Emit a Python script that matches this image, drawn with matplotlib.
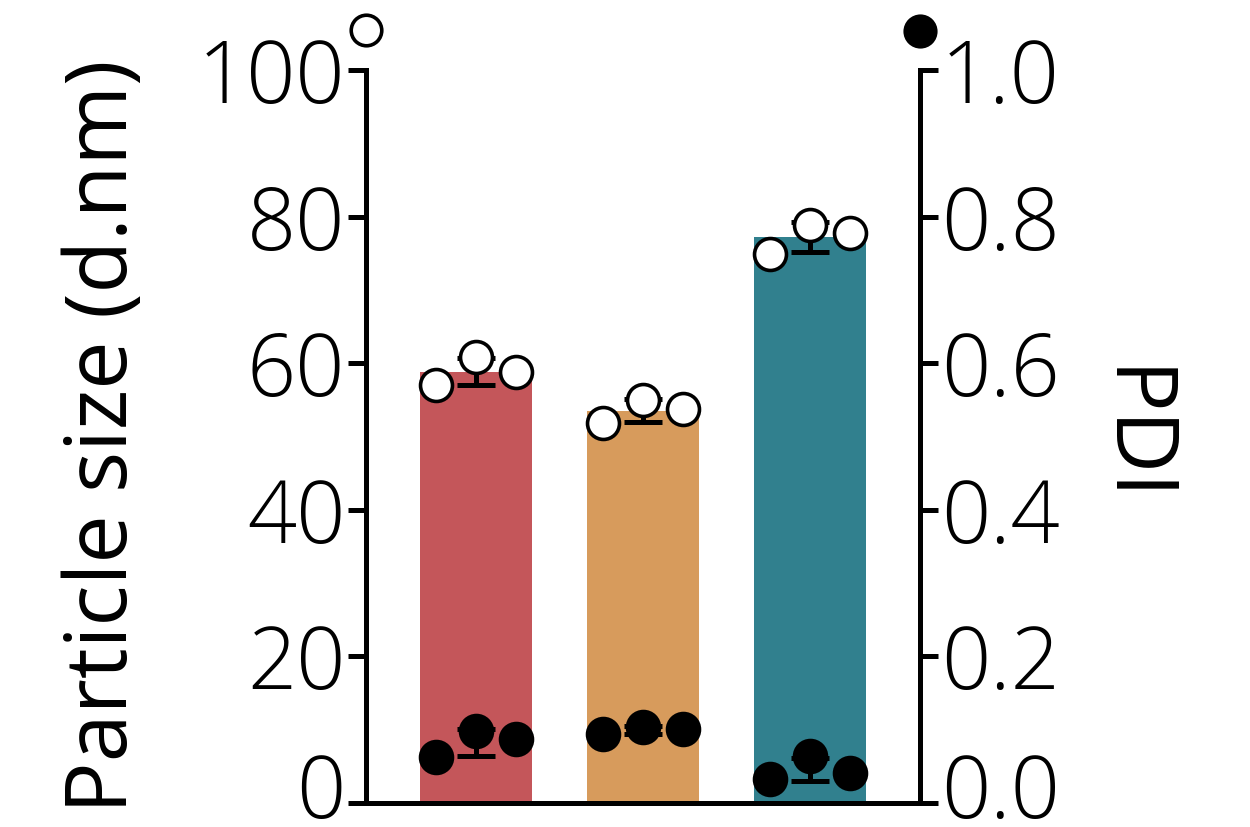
import numpy as np
import matplotlib
matplotlib.use("Agg")
import matplotlib.pyplot as plt
import matplotlib.transforms as mtransforms

plt.rcParams['font.family'] = ['Open Sans', 'DejaVu Sans']
plt.rcParams['font.weight'] = 'light'

# --- data ---
groups = ["A", "B", "C"]
bar_colors = ["#C4565A", "#D79B5C", "#31808E"]
size_reps = [
    [57.0, 60.8, 58.8],
    [51.8, 55.0, 53.8],
    [74.9, 78.9, 77.8],
]
pdi_reps = [
    [0.063, 0.098, 0.087],
    [0.094, 0.104, 0.101],
    [0.033, 0.064, 0.041],
]
rep_offsets = [-0.24, 0.0, 0.24]

size_mean = [np.mean(v) for v in size_reps]
size_sd = [np.std(v, ddof=1) for v in size_reps]
pdi_mean = [np.mean(v) for v in pdi_reps]
pdi_sd = [np.std(v, ddof=1) for v in pdi_reps]

fig = plt.figure(figsize=(12.5, 8.27), dpi=100)
ax = fig.add_axes([0.2928, 0.029, 0.4432, 0.8863])
ax2 = ax.twinx()

x = np.arange(len(groups))
lw = 3.6
ms = 23
fs = 62

ax.bar(x, size_mean, width=0.67, color=bar_colors, zorder=1)
ax.errorbar(x, size_mean, yerr=size_sd, fmt="none", ecolor="black",
            elinewidth=lw, capsize=14, capthick=lw, zorder=3)
for i in range(len(groups)):
    ax.plot(x[i] + np.array(rep_offsets), size_reps[i], "o", ls="none",
            ms=ms, mfc="white", mec="black", mew=2.6, zorder=4, clip_on=False)

ax2.errorbar(x, pdi_mean, yerr=pdi_sd, fmt="none", ecolor="black",
             elinewidth=lw, capsize=14, capthick=lw, zorder=3)
for i in range(len(groups)):
    ax2.plot(x[i] + np.array(rep_offsets), pdi_reps[i], "o", ls="none",
             ms=ms, mfc="black", mec="black", mew=2.6, zorder=4, clip_on=False)

ax.set_xlim(-0.66, 2.66)
ax.set_ylim(0, 100)
ax2.set_ylim(0, 1.0)
ax.set_yticks([0, 20, 40, 60, 80, 100])
ax2.set_yticks([0.0, 0.2, 0.4, 0.6, 0.8, 1.0])
ax2.set_yticklabels(["0.0", "0.2", "0.4", "0.6", "0.8", "1.0"])
ax.set_xticks([])

for a in (ax, ax2):
    a.spines["top"].set_visible(False)
    for s in ("left", "right", "bottom"):
        a.spines[s].set_linewidth(lw)
    a.tick_params(axis="y", length=13, width=lw, labelsize=fs, pad=2)
ax.spines["right"].set_visible(False)
ax2.spines["left"].set_visible(False)
ax2.spines["bottom"].set_visible(False)

ax.set_ylabel("Particle size (d.nm)", fontsize=fs, labelpad=36)
ax2.set_ylabel("PDI", fontsize=fs, rotation=270, labelpad=82)

# nudge the bottom tick labels up so they stay inside the figure
fig.canvas.draw()
lift = mtransforms.ScaledTranslation(0, 13 / 72, fig.dpi_scale_trans)
ax.yaxis.get_major_ticks()[0].label1.set_transform(
    ax.yaxis.get_major_ticks()[0].label1.get_transform() + lift)
ax2.yaxis.get_major_ticks()[0].label2.set_transform(
    ax2.yaxis.get_major_ticks()[0].label2.get_transform() + lift)

# axis key markers above the spines
ax.plot([0], [1.055], "o", transform=ax.transAxes, ms=22, mfc="white",
        mec="black", mew=2.6, clip_on=False)
ax.plot([1], [1.053], "o", transform=ax.transAxes, ms=22, mfc="black",
        mec="black", mew=2.6, clip_on=False)

fig.savefig("out.png", dpi=100)
